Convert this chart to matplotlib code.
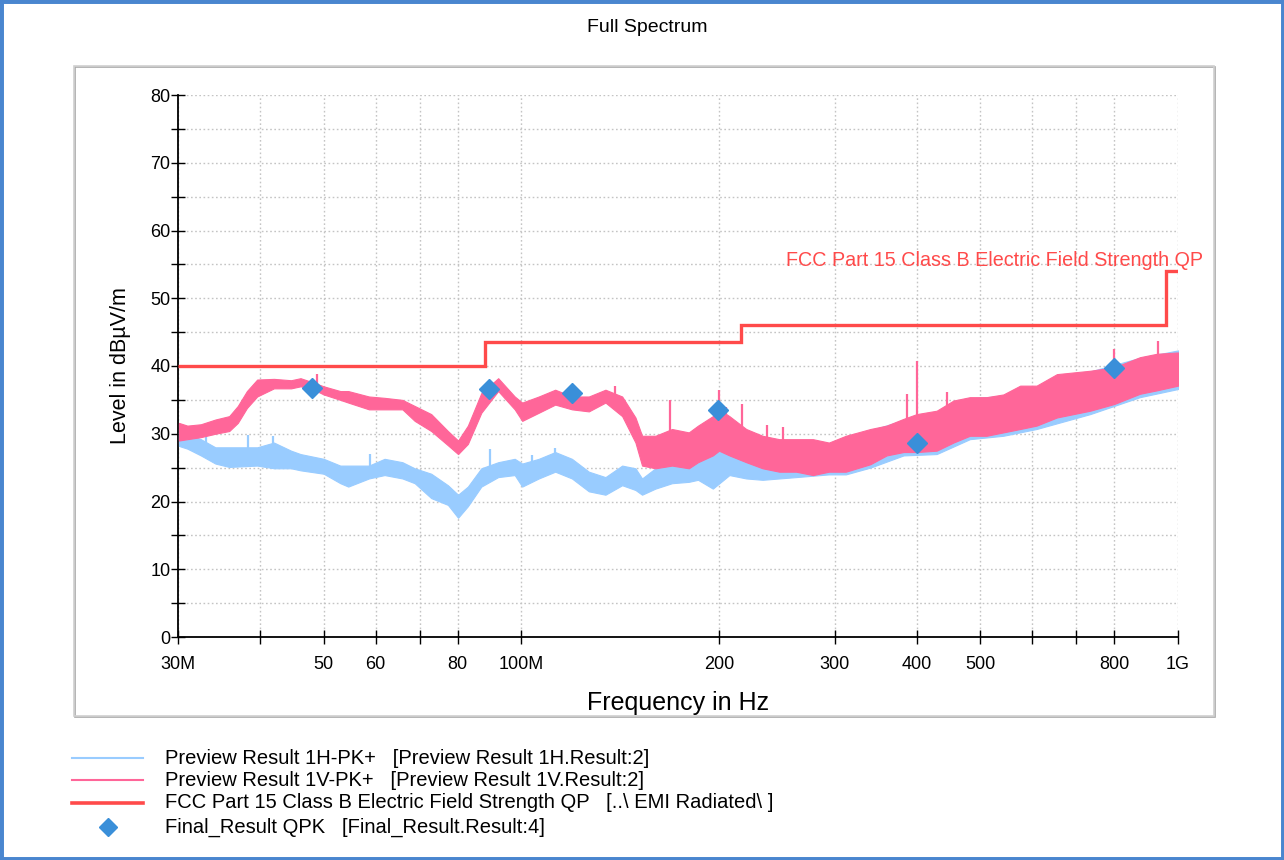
import numpy as np
import matplotlib
matplotlib.use('Agg')
import matplotlib.pyplot as plt
from matplotlib.patches import Rectangle
from matplotlib.lines import Line2D
from matplotlib.ticker import FixedLocator, NullLocator

plt.rcParams['font.family'] = ['Liberation Sans', 'DejaVu Sans']

# horizontal polarisation peak scan, band edges (MHz, dBuV/m)
h_freq = [30.1, 31.0, 32.5, 34.2, 35.9, 39.6, 42.0, 44.6, 46.1, 50.0, 53.0, 54.5, 58.6, 61.9, 65.9,
          68.8, 72.9, 77.3, 80.1, 82.9, 86.9, 92.2, 97.7, 100.3, 106.3, 112.6, 119.4, 126.7, 134.3,
          142.4, 149.2, 152.7, 160.0, 169.6, 179.9, 185.8, 195.7, 207.4, 220, 233, 262, 294, 312,
          340, 382, 429, 482, 542, 609, 735, 875, 1000]
h_low = [28.2, 27.8, 26.8, 25.6, 25.1, 25.3, 24.9, 24.9, 24.6, 24.1, 22.7, 22.2, 23.4, 23.9, 23.4,
         22.7, 20.5, 19.5, 17.6, 19.3, 22.2, 23.6, 23.9, 22.2, 23.4, 24.4, 23.4, 21.5, 21.0,
         22.4, 21.7, 21.0, 21.9, 22.7, 22.9, 23.2, 21.9, 23.9, 23.4, 23.2, 23.6, 24.0, 24.0,
         25.0, 26.8, 27.0, 29.2, 29.7, 30.7, 32.9, 35.4, 36.6]
h_high = [30.2, 30.0, 29.2, 28.0, 28.0, 28.0, 28.7, 27.5, 27.0, 26.3, 25.3, 25.3, 25.3, 26.3, 25.8,
          24.9, 24.1, 22.4, 21.0, 22.2, 24.9, 25.8, 26.3, 25.6, 26.3, 27.3, 26.3, 24.4, 23.6,
          25.3, 24.9, 23.4, 24.9, 25.3, 25.3, 25.8, 27.3, 27.3, 26.3, 25.8, 25.6, 26.3, 28.0,
          30.5, 32.0, 33.2, 35.2, 35.6, 36.9, 39.2, 41.2, 42.3]

# vertical polarisation peak scan
v_freq = [30.1, 31.0, 32.5, 34.2, 35.9, 37.0, 38.2, 39.6, 42.0, 44.6, 46.1, 48.1, 50.0, 53.0, 54.5,
          58.6, 61.9, 65.9, 68.8, 72.9, 77.3, 80.1, 82.9, 86.9, 92.2, 97.7, 100.3, 106.3, 112.6,
          119.4, 126.7, 134.3, 142.4, 149.2, 152.7, 160.0, 169.6, 179.9, 185.8, 195.7, 200, 207.4,
          220, 233, 247, 262, 278, 294, 312, 340, 360, 382, 400, 429, 455, 482, 511, 542, 575, 609,
          654, 735, 800, 875, 928, 1000]
v_low = [29.0, 29.2, 29.5, 30.0, 30.4, 31.6, 33.8, 35.5, 36.7, 36.7, 37.0, 36.6, 35.8, 35.0, 34.6,
         33.6, 33.6, 33.6, 31.9, 30.4, 28.3, 27.0, 28.5, 33.1, 36.3, 33.6, 31.9, 33.1, 34.3,
         33.6, 33.3, 34.6, 32.6, 28.7, 25.3, 24.9, 25.3, 24.9, 25.8, 26.8, 27.5, 26.8,
         25.8, 24.9, 24.4, 24.4, 23.9, 24.4, 24.4, 25.5, 26.8, 27.3, 27.3, 27.5, 28.7, 29.7, 29.7,
         30.2, 30.7, 31.2, 32.4, 33.4, 34.4, 35.9, 36.4, 37.1]
v_high = [31.6, 31.2, 31.4, 32.1, 32.6, 34.1, 36.3, 38.0, 38.1, 37.9, 38.2, 37.6, 37.0, 36.3, 36.3,
          35.5, 35.3, 35.0, 34.1, 32.9, 30.4, 29.0, 31.2, 36.0, 38.2, 35.5, 34.6, 35.5, 36.5,
          35.5, 35.5, 36.5, 35.5, 32.4, 29.7, 29.7, 30.7, 30.2, 31.2, 32.6, 33.6, 32.6,
          30.7, 29.7, 29.2, 29.2, 29.2, 28.7, 29.7, 30.7, 31.2, 32.2, 32.9, 33.4, 34.9, 35.4, 35.4,
          35.8, 37.1, 37.1, 38.8, 39.3, 39.8, 41.3, 41.8, 42.0]

# single-frequency spikes above the band
h_spike_freq = [33.1, 38.3, 41.9, 58.8, 89.5, 103.8, 112.6]
h_spike_level = [30.2, 29.8, 29.6, 27.0, 27.8, 26.8, 27.9]
v_spike_freq = [48.9, 138.7, 168.2, 200.0, 205.0, 216.6, 237.0, 250.6, 386.0, 400.0, 444.6, 800.0, 933.0]
v_spike_level = [38.8, 37.1, 35.0, 36.5, 34.0, 34.4, 31.3, 31.0, 35.8, 40.7, 36.1, 42.5, 43.7]

# FCC Part 15 class B limit (edges in MHz)
limit_edges = [30, 88, 216, 960, 1000]
limit_level = [40, 43.5, 46, 54]

# final quasi-peak results
qpk_freq = [48.0, 89.3, 119.5, 199.3, 400.6, 800.0]
qpk_level = [36.7, 36.6, 36.0, 33.5, 28.6, 39.7]

tick_freq = [30, 40, 50, 60, 70, 80, 100, 200, 300, 400, 500, 600, 700, 800, 1000]
tick_text = ['30M', '', '50', '60', '', '80', '100M', '200', '300', '400', '500', '', '', '800', '1G']

legend_text = [
    'Preview Result 1H-PK+   [Preview Result 1H.Result:2]',
    'Preview Result 1V-PK+   [Preview Result 1V.Result:2]',
    'FCC Part 15 Class B Electric Field Strength QP   [..\\ EMI Radiated\\ ]',
    'Final_Result QPK   [Final_Result.Result:4]',
]

H_COL = '#99ccff'
V_COL = '#ff6699'
LIM_COL = '#ff4a4a'
QPK_COL = '#3a8fd9'

W, H = 1284, 860
fig = plt.figure(figsize=(W / 100, H / 100), dpi=100)


def fx(x):
    return x / W


def fy(y):
    return 1 - y / H


ax = fig.add_axes([fx(178), fy(637), fx(1178) - fx(178), fy(95) - fy(637)])
ax.set_xscale('log')
mhz = 1e6


def band(freq, lo, hi, spk_f, spk_l, col):
    f = np.array(freq) * mhz
    ax.fill_between(f, lo, hi, color=col, lw=0.8, edgecolor=col, zorder=3)
    sf = np.array(spk_f) * mhz
    base = np.interp(np.log10(sf), np.log10(f), hi)
    ax.vlines(sf, base - 1, spk_l, color=col, lw=1.6, zorder=3)


band(h_freq, h_low, h_high, h_spike_freq, h_spike_level, H_COL)
band(v_freq, v_low, v_high, v_spike_freq, v_spike_level, V_COL)

ax.stairs(limit_level, np.array(limit_edges) * mhz, baseline=None, color=LIM_COL, lw=2.4, zorder=4)
ax.plot(np.array(qpk_freq) * mhz, qpk_level, ls='none', marker='D', ms=10, color=QPK_COL, zorder=5)

ax.text(1092 * mhz, 55.6, 'FCC Part 15 Class B Electric Field Strength QP', color=LIM_COL,
        fontsize=14.2, ha='right', va='center', clip_on=False)

ax.set_xlim(30 * mhz, 1000 * mhz)
ax.set_ylim(0, 80)
ax.xaxis.set_major_locator(FixedLocator(np.array(tick_freq) * mhz))
ax.xaxis.set_minor_locator(NullLocator())
ax.set_xticklabels(tick_text)
ax.set_yticks(range(0, 81, 10))
ax.set_yticks(range(5, 80, 10), minor=True)
ax.tick_params(direction='inout', length=10, width=1, labelsize=13, color='black')
ax.tick_params(which='minor', direction='inout', length=10, width=1)
ax.tick_params(axis='x', pad=8.5)
ax.tick_params(axis='y', pad=0.5)
ax.grid(True, which='both', color='#c4c4c4', ls=(0, (1.2, 1.8)), lw=1)
for s in ('top', 'right'):
    ax.spines[s].set_visible(False)
for s in ('left', 'bottom'):
    ax.spines[s].set_linewidth(1.3)
ax.set_axisbelow(True)

ax.set_ylabel('Level in dBµV/m', fontsize=15.5, labelpad=14)
ax.set_xlabel('Frequency in Hz', fontsize=18, labelpad=13)

fig.text(fx(647), fy(27), 'Full Spectrum', fontsize=14, ha='center', va='center')

# panel frame and outer border
fig.add_artist(Rectangle((fx(75), fy(717)), fx(1140), fy(0) - fy(650), transform=fig.transFigure,
                         fill=False, edgecolor='#a8a8a8', lw=1.2))
fig.add_artist(Rectangle((fx(74), fy(716)), fx(1140), fy(0) - fy(650), transform=fig.transFigure,
                         fill=False, edgecolor='#d0d0d0', lw=1.2))
fig.add_artist(Rectangle((0, 0), 1, 1, transform=fig.transFigure, fill=False,
                         edgecolor='#4a86cf', lw=5))

# legend rows
rows_y = [758, 780, 803, 827]
styles = [dict(color=H_COL, lw=1.5), dict(color=V_COL, lw=1.5), dict(color=LIM_COL, lw=2.6)]
for y, st in zip(rows_y[:3], styles):
    fig.add_artist(Line2D([fx(72), fx(143)], [fy(y), fy(y)], transform=fig.transFigure, **st))
fig.add_artist(Line2D([fx(108)], [fy(rows_y[3])], transform=fig.transFigure, marker='D',
                      ms=9, color=QPK_COL, ls='none'))
for y, t in zip(rows_y, legend_text):
    fig.text(fx(165), fy(y), t, fontsize=14.5, ha='left', va='center')

fig.savefig('out.png', dpi=100)
